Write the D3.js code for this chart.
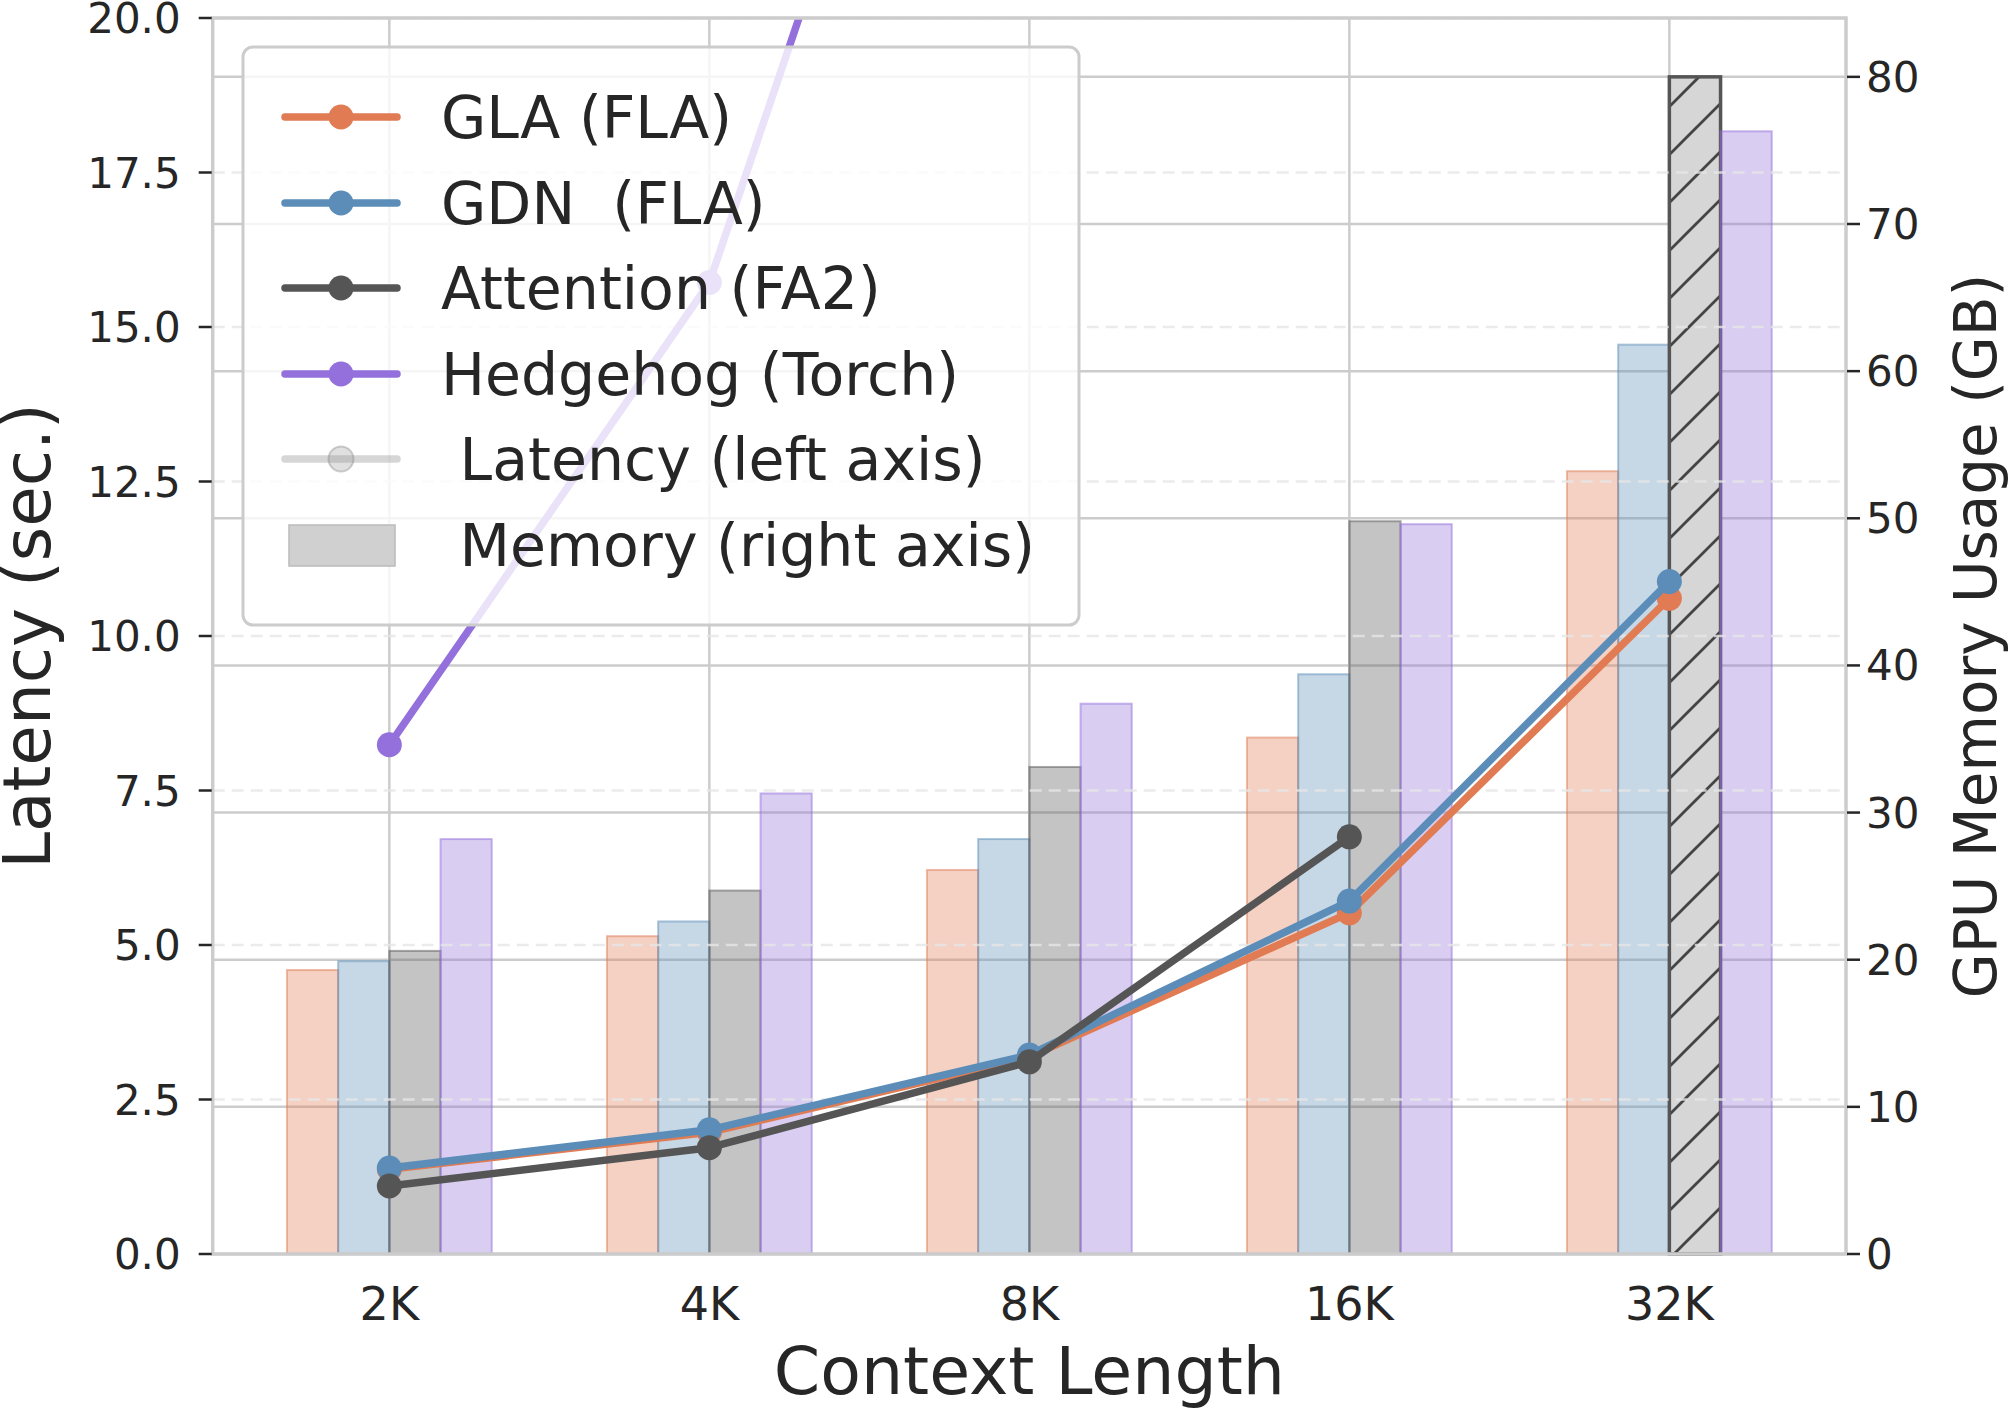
<!DOCTYPE html>
<html>
<head>
<meta charset="utf-8">
<script src="https://cdn.jsdelivr.net/npm/d3@7"></script>
<style>
  html, body { margin: 0; padding: 0; background: #fff; }
  text { font-family: "DejaVu Sans", sans-serif; fill: #262626; white-space: pre; }
</style>
</head>
<body>
<svg id="chart" width="2009" height="1409"></svg>
<script>
// context lengths on the x axis
const categories = ['2K', '4K', '8K', '16K', '32K'];
const seriesNames = ['GLA (FLA)', 'GDN  (FLA)', 'Attention (FA2)', 'Hedgehog (Torch)'];
const seriesColors = ['#E07B54', '#5B8DB8', '#555555', '#9370DB'];

// latency in seconds (left axis); null = not measured / out of memory
const glaLatency = [1.37, 1.97, 3.19, 5.52, 10.61];
const gdnLatency = [1.39, 2.01, 3.22, 5.71, 10.88];
const attnLatency = [1.10, 1.72, 3.11, 6.75, null];
const hedgehogLatency = [8.24, 15.72, 31.0, null, null];

// GPU memory in GB (right axis)
const glaMemory = [19.3, 21.6, 26.1, 35.1, 53.2];
const gdnMemory = [19.9, 22.6, 28.2, 39.4, 61.8];
const attnMemory = [20.6, 24.7, 33.1, 49.8, 80.0];
const hedgehogMemory = [28.2, 31.3, 37.4, 49.6, 76.3];
// attention at 32K runs out of memory -> hatched bar
const attnOOM = [false, false, false, false, true];

const leftTicks = [0, 2.5, 5, 7.5, 10, 12.5, 15, 17.5, 20];
const rightTicks = [0, 10, 20, 30, 40, 50, 60, 70, 80];

const latencies = [glaLatency, gdnLatency, attnLatency, hedgehogLatency];
const memories = [glaMemory, gdnMemory, attnMemory, hedgehogMemory];

const svg = d3.select('#chart');
const plot = { left: 212.7, right: 1846, top: 18, bottom: 1254 };
const barW = 0.16;

const x = d3.scaleLinear().domain([-0.552, 4.552]).range([plot.left, plot.right]);
const yL = d3.scaleLinear().domain([0, 20]).range([plot.bottom, plot.top]);
const yR = d3.scaleLinear().domain([0, 84.0]).range([plot.bottom, plot.top]);

const defs = svg.append('defs');
defs.append('clipPath').attr('id', 'clip')
  .append('rect')
  .attr('x', plot.left).attr('y', plot.top)
  .attr('width', plot.right - plot.left).attr('height', plot.bottom - plot.top);

const hatch = defs.append('pattern')
  .attr('id', 'hatch')
  .attr('patternUnits', 'userSpaceOnUse')
  .attr('width', 48).attr('height', 48);
hatch.append('rect').attr('width', 48).attr('height', 48).attr('fill', '#d6d6d6');
hatch.append('path')
  .attr('d', 'M-12,12 L12,-12 M0,48 L48,0 M36,60 L60,36')
  .attr('stroke', '#444').attr('stroke-width', 2.8);

// right axis grid (solid) + vertical grid
svg.append('g')
  .selectAll('line')
  .data(rightTicks)
  .join('line')
  .attr('x1', plot.left).attr('x2', plot.right)
  .attr('y1', d => yR(d)).attr('y2', d => yR(d))
  .attr('stroke', '#cccccc').attr('stroke-width', 2.5);

svg.append('g')
  .selectAll('line')
  .data(categories)
  .join('line')
  .attr('x1', (d, i) => x(i)).attr('x2', (d, i) => x(i))
  .attr('y1', plot.top).attr('y2', plot.bottom)
  .attr('stroke', '#cccccc').attr('stroke-width', 2.5);

// memory bars
memories.forEach((mem, s) => {
  svg.append('g')
    .selectAll('rect')
    .data(mem.map((v, i) => ({ v, i, oom: s === 2 && attnOOM[i] })))
    .join('rect')
    .attr('x', d => x(d.i + (s - 2) * barW))
    .attr('width', x(barW) - x(0))
    .attr('y', d => yR(d.v))
    .attr('height', d => yR(0) - yR(d.v))
    .attr('fill', d => d.oom ? 'url(#hatch)' : seriesColors[s])
    .attr('fill-opacity', d => d.oom ? 1 : 0.35)
    .attr('stroke', d => d.oom ? '#555' : seriesColors[s])
    .attr('stroke-opacity', d => d.oom ? 1 : 0.5)
    .attr('stroke-width', d => d.oom ? 3.5 : 2);
});

// left axis grid (dashed)
svg.append('g')
  .selectAll('line')
  .data(leftTicks.slice(1))
  .join('line')
  .attr('x1', plot.left).attr('x2', plot.right)
  .attr('y1', d => yL(d)).attr('y2', d => yL(d))
  .attr('stroke', '#e6e6e6').attr('stroke-opacity', 0.8)
  .attr('stroke-width', 2.5).attr('stroke-dasharray', '12,7');

// latency lines
const lineGen = d3.line()
  .defined(d => d.v != null)
  .x(d => x(d.i))
  .y(d => yL(d.v));

const linesG = svg.append('g').attr('clip-path', 'url(#clip)');
latencies.forEach((lat, s) => {
  const pts = lat.map((v, i) => ({ v, i }));
  linesG.append('path')
    .datum(pts)
    .attr('d', lineGen)
    .attr('fill', 'none')
    .attr('stroke', seriesColors[s])
    .attr('stroke-width', 7.5)
    .attr('stroke-linejoin', 'round');
  linesG.append('g')
    .selectAll('circle')
    .data(pts.filter(d => d.v != null))
    .join('circle')
    .attr('cx', d => x(d.i))
    .attr('cy', d => yL(d.v))
    .attr('r', 12.5)
    .attr('fill', seriesColors[s]);
});

// spines
svg.append('rect')
  .attr('x', plot.left).attr('y', plot.top)
  .attr('width', plot.right - plot.left).attr('height', plot.bottom - plot.top)
  .attr('fill', 'none').attr('stroke', '#cccccc').attr('stroke-width', 3.5);

// left axis ticks
const leftAxis = svg.append('g');
leftAxis.selectAll('line')
  .data(leftTicks)
  .join('line')
  .attr('x1', plot.left - 14).attr('x2', plot.left - 1)
  .attr('y1', d => yL(d)).attr('y2', d => yL(d))
  .attr('stroke', '#262626').attr('stroke-width', 2.5);
leftAxis.selectAll('text')
  .data(leftTicks)
  .join('text')
  .attr('x', plot.left - 32)
  .attr('y', d => yL(d) + 15)
  .attr('text-anchor', 'end')
  .attr('font-size', 42)
  .text(d => d3.format('.1f')(d));

// right axis ticks
const rightAxis = svg.append('g');
rightAxis.selectAll('line')
  .data(rightTicks)
  .join('line')
  .attr('x1', plot.right + 1).attr('x2', plot.right + 14)
  .attr('y1', d => yR(d)).attr('y2', d => yR(d))
  .attr('stroke', '#262626').attr('stroke-width', 2.5);
rightAxis.selectAll('text')
  .data(rightTicks)
  .join('text')
  .attr('x', plot.right + 20)
  .attr('y', d => yR(d) + 15)
  .attr('font-size', 42)
  .text(d => d);

// x tick labels
svg.append('g')
  .selectAll('text')
  .data(categories)
  .join('text')
  .attr('x', (d, i) => x(i))
  .attr('y', 1320)
  .attr('text-anchor', 'middle')
  .attr('font-size', 46)
  .text(d => d);

// axis labels
svg.append('text')
  .attr('x', (plot.left + plot.right) / 2)
  .attr('y', 1394)
  .attr('text-anchor', 'middle')
  .attr('font-size', 66.5)
  .text('Context Length');

svg.append('text')
  .attr('transform', `translate(50,${(plot.top + plot.bottom) / 2}) rotate(-90)`)
  .attr('text-anchor', 'middle')
  .attr('font-size', 66)
  .text('Latency (sec.)');

svg.append('text')
  .attr('transform', `translate(1996,${(plot.top + plot.bottom) / 2}) rotate(-90)`)
  .attr('text-anchor', 'middle')
  .attr('font-size', 58)
  .text('GPU Memory Usage (GB)');

// legend
const legend = svg.append('g');
legend.append('rect')
  .attr('x', 243).attr('y', 47)
  .attr('width', 836).attr('height', 578)
  .attr('rx', 10)
  .attr('fill', '#fff').attr('fill-opacity', 0.8)
  .attr('stroke', '#cccccc').attr('stroke-width', 3);

const legendFont = 58.5;
const rowY = [117, 203, 288, 374, 459, 545];
seriesNames.forEach((name, s) => {
  legend.append('line')
    .attr('x1', 285).attr('x2', 397)
    .attr('y1', rowY[s]).attr('y2', rowY[s])
    .attr('stroke', seriesColors[s]).attr('stroke-width', 7.5)
    .attr('stroke-linecap', 'round');
  legend.append('circle')
    .attr('cx', 341).attr('cy', rowY[s]).attr('r', 12.5)
    .attr('fill', seriesColors[s]);
  legend.append('text')
    .attr('x', 441).attr('y', rowY[s] + 21)
    .attr('font-size', legendFont)
    .text(name);
});

// latency (left axis) handle
legend.append('line')
  .attr('x1', 285).attr('x2', 397)
  .attr('y1', rowY[4]).attr('y2', rowY[4])
  .attr('stroke', '#999').attr('stroke-opacity', 0.4).attr('stroke-width', 7.5)
  .attr('stroke-linecap', 'round');
legend.append('circle')
  .attr('cx', 341).attr('cy', rowY[4]).attr('r', 12.5)
  .attr('fill', '#999').attr('fill-opacity', 0.3)
  .attr('stroke', '#888').attr('stroke-opacity', 0.4).attr('stroke-width', 2);
legend.append('text')
  .attr('x', 441).attr('y', rowY[4] + 21)
  .attr('font-size', legendFont)
  .text(' Latency (left axis)');

// memory (right axis) handle
legend.append('rect')
  .attr('x', 289).attr('y', 525)
  .attr('width', 106).attr('height', 41)
  .attr('fill', '#d0d0d0')
  .attr('stroke', '#bbbbbb').attr('stroke-width', 1.5);
legend.append('text')
  .attr('x', 441).attr('y', rowY[5] + 21)
  .attr('font-size', legendFont)
  .text(' Memory (right axis)');
</script>
</body>
</html>
